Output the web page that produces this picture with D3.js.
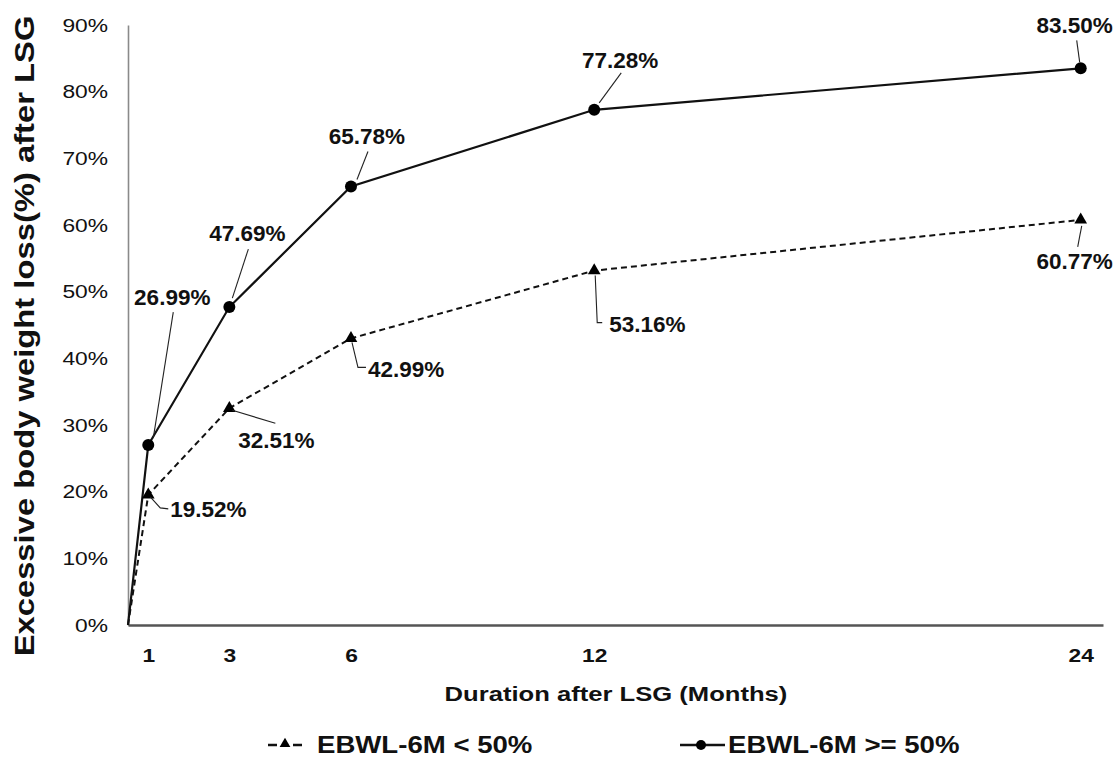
<!DOCTYPE html>
<html>
<head>
<meta charset="utf-8">
<script src="https://cdn.jsdelivr.net/npm/d3@7"></script>
<style>
  html, body { margin: 0; padding: 0; background: #fff; }
  svg { display: block; font-family: "Liberation Sans", Arial, sans-serif; }
</style>
</head>
<body>
<svg id="chart" width="1117" height="761"></svg>
<script>
// ---- data ----
const months = [1, 3, 6, 12, 24];
const lowValues = [19.52, 32.51, 42.99, 53.16, 60.77];   // EBWL-6M < 50%
const highValues = [26.99, 47.69, 65.78, 77.28, 83.50];  // EBWL-6M >= 50%
const yTickValues = [0, 10, 20, 30, 40, 50, 60, 70, 80, 90];
const seriesNames = ["EBWL-6M < 50%", "EBWL-6M >= 50%"];
const xTitle = "Duration after LSG (Months)";
const yTitle = "Excessive body weight loss(%) after LSG";

// ---- label layout (pixel offsets from each marker) ----
const highLabelLayout = [
  { tx: 24, ty: -148, anchor: "middle", leader: [[5, -7], [25, -133]] },
  { tx: 18, ty: -74, anchor: "middle", leader: [[3, -9], [19, -58]] },
  { tx: 16, ty: -50, anchor: "middle", leader: [[6, -7], [17, -35]] },
  { tx: 26, ty: -49, anchor: "middle", leader: [[5, -7], [27, -37]] },
  { tx: -6, ty: -43, anchor: "middle", leader: [[-1, -6], [-4, -28]] }
];
const lowLabelLayout = [
  { tx: 22, ty: 15, anchor: "start", leader: [[2, 2], [12, 13], [20, 14]] },
  { tx: 47, ty: 32, anchor: "middle", leader: [[3, 2], [46, 15]] },
  { tx: 17, ty: 31, anchor: "start", leader: [[1, 4], [7, 29], [15, 29]] },
  { tx: 15, ty: 54, anchor: "start", leader: [[1, 5], [3, 52], [8, 52]] },
  { tx: -6, ty: 42, anchor: "middle", leader: [[1, 6], [-3, 27]] }
];

const svg = d3.select("#chart");

const x = d3.scaleLinear().domain([0.5, 24.55]).range([128, 1103]);
const y = d3.scaleLinear().domain([0, 90]).range([625, 25]);

const STRETCH = 1.2;

// ---- Y axis ----
const yAxis = svg.append("g")
  .attr("transform", `translate(${x.range()[0]},0)`)
  .call(d3.axisLeft(y).tickValues(yTickValues).tickSize(0).tickPadding(20 / STRETCH)
        .tickFormat(d => d + "%"));
yAxis.select(".domain").attr("stroke", "#8a8a8a").attr("stroke-width", 1.6);
yAxis.selectAll("text")
  .attr("font-size", 19).attr("fill", "#111")
  .attr("font-family", "'Liberation Sans', Arial, sans-serif")
  .attr("transform", `scale(${STRETCH},1)`);

// ---- X axis ----
const xAxis = svg.append("g")
  .attr("transform", `translate(0,${y(0)})`)
  .call(d3.axisBottom(x).tickValues(months).tickSize(0).tickFormat(d3.format("d")));
xAxis.select(".domain").attr("stroke", "#555").attr("stroke-width", 2.6);
xAxis.selectAll("text")
  .attr("x", 0).attr("y", 30).attr("dy", "0.35em")
  .attr("font-size", 19).attr("font-weight", "bold").attr("fill", "#111")
  .attr("font-family", "'Liberation Sans', Arial, sans-serif")
  .attr("transform", `scale(${STRETCH},1)`);

// ---- Axis titles ----
svg.append("text")
  .attr("transform", `translate(616,694) scale(1.22,1)`)
  .attr("text-anchor", "middle").attr("dominant-baseline", "central")
  .attr("font-size", 21).attr("font-weight", "bold").attr("fill", "#111")
  .text(xTitle);

svg.append("text")
  .attr("transform", `translate(34,336) rotate(-90) scale(1.17,1)`)
  .attr("text-anchor", "middle")
  .attr("font-size", 28).attr("font-weight", "bold").attr("fill", "#111")
  .text(yTitle);

// ---- Lines ----
const startMonth = x.domain()[0];
function seriesPoints(vals) {
  return [{ m: startMonth, v: 0 }].concat(months.map((m, i) => ({ m, v: vals[i] })));
}
const line = d3.line().x(d => x(d.m)).y(d => y(d.v));

svg.append("path")
  .datum(seriesPoints(lowValues))
  .attr("d", line).attr("fill", "none")
  .attr("stroke", "#111").attr("stroke-width", 2).attr("stroke-dasharray", "6,4");

svg.append("path")
  .datum(seriesPoints(highValues))
  .attr("d", line).attr("fill", "none")
  .attr("stroke", "#111").attr("stroke-width", 2.2);

// ---- Markers ----
const tri = d3.symbol().type(d3.symbolTriangle).size(70);
svg.append("g").selectAll("path")
  .data(months.map((m, i) => ({ m, v: lowValues[i] })))
  .join("path")
  .attr("d", tri)
  .attr("transform", d => `translate(${x(d.m)},${y(d.v)})`)
  .attr("fill", "#000");

svg.append("g").selectAll("circle")
  .data(months.map((m, i) => ({ m, v: highValues[i] })))
  .join("circle")
  .attr("cx", d => x(d.m)).attr("cy", d => y(d.v)).attr("r", 6)
  .attr("fill", "#000");

// ---- Data labels with leader lines ----
function drawLabels(vals, layout) {
  const g = svg.append("g");
  months.forEach((m, i) => {
    const px = x(m), py = y(vals[i]);
    const L = layout[i];
    g.append("path")
      .attr("d", d3.line()(L.leader.map(p => [px + p[0], py + p[1]])))
      .attr("fill", "none").attr("stroke", "#222").attr("stroke-width", 1.1);
    g.append("text")
      .attr("x", px + L.tx).attr("y", py + L.ty)
      .attr("text-anchor", L.anchor).attr("dominant-baseline", "central")
      .attr("font-size", 22.5).attr("font-weight", "bold").attr("fill", "#111")
      .text(vals[i].toFixed(2) + "%");
  });
}
drawLabels(highValues, highLabelLayout);
drawLabels(lowValues, lowLabelLayout);

// ---- Legend ----
const legendY = 745;
const lg = svg.append("g");
// item 1 : dashed + triangle
lg.append("line").attr("x1", 268).attr("x2", 302).attr("y1", legendY).attr("y2", legendY)
  .attr("stroke", "#111").attr("stroke-width", 2.4).attr("stroke-dasharray", "9,16");
lg.append("path").attr("d", d3.symbol().type(d3.symbolTriangle).size(50))
  .attr("transform", `translate(285,${legendY - 1})`).attr("fill", "#000");
lg.append("text")
  .attr("transform", `translate(317,${legendY}) scale(${STRETCH},1)`)
  .attr("dominant-baseline", "central")
  .attr("font-size", 23).attr("font-weight", "bold").attr("fill", "#111")
  .text(seriesNames[0]);
// item 2 : solid + circle
lg.append("line").attr("x1", 680).attr("x2", 725).attr("y1", legendY).attr("y2", legendY)
  .attr("stroke", "#111").attr("stroke-width", 2.4);
lg.append("circle").attr("cx", 701).attr("cy", legendY).attr("r", 5).attr("fill", "#000");
lg.append("text")
  .attr("transform", `translate(728,${legendY}) scale(${STRETCH},1)`)
  .attr("dominant-baseline", "central")
  .attr("font-size", 23).attr("font-weight", "bold").attr("fill", "#111")
  .text(seriesNames[1]);
</script>
</body>
</html>
